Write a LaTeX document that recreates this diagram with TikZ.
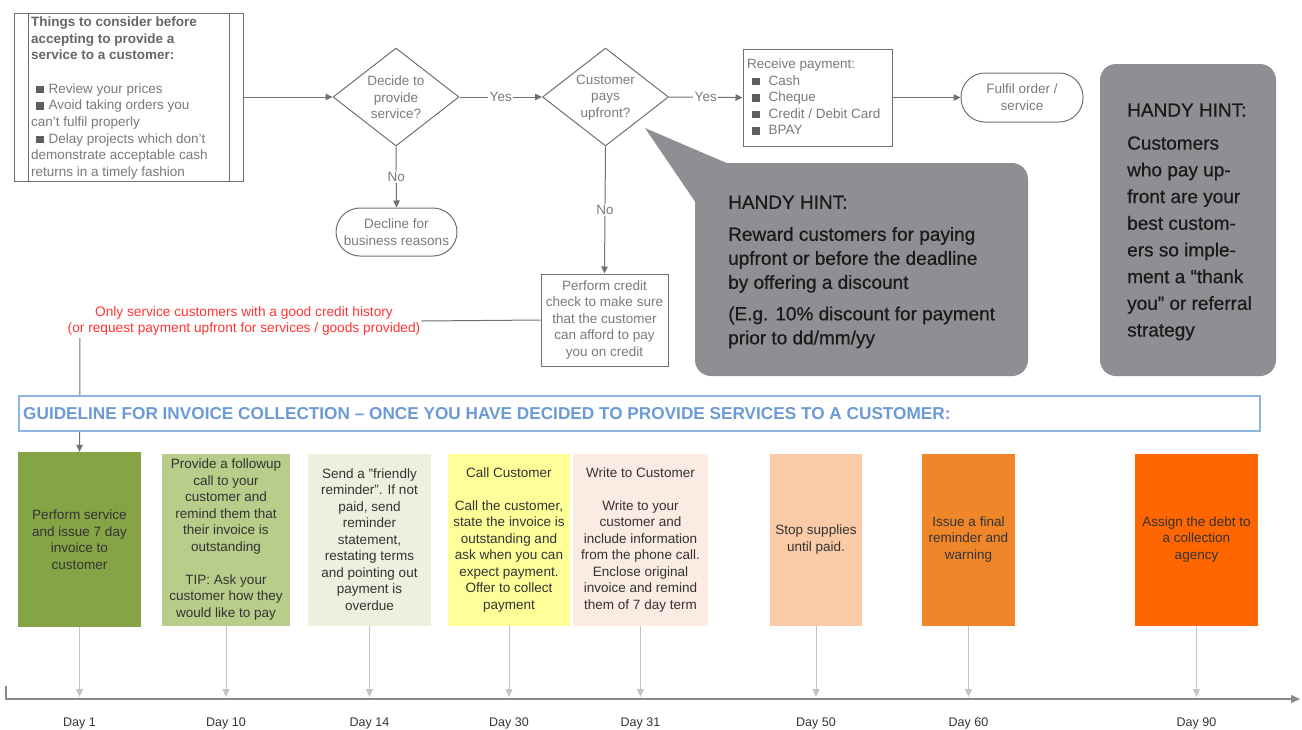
\documentclass[tikz,border=0pt]{standalone}
\usepackage{fontspec}
\setmainfont{Liberation Sans}
\newfontfamily\hintfont[FakeBold=0.6]{Liberation Sans}
\usetikzlibrary{shapes.geometric,arrows.meta}
\definecolor{linec}{HTML}{707070}
\definecolor{ftextc}{HTML}{7A7A7A}
\definecolor{boldc}{HTML}{666666}
\definecolor{bulletc}{HTML}{5E5E5E}
\definecolor{redc}{HTML}{FF3333}
\definecolor{guidec}{HTML}{8DB4E2}
\definecolor{guidetext}{HTML}{6C9AD6}
\definecolor{hintc}{HTML}{8E8F93}
\definecolor{hinttext}{HTML}{1A1A1A}
\definecolor{boxtext}{HTML}{333333}
\definecolor{cA}{HTML}{84A446}
\definecolor{cB}{HTML}{B8CD8A}
\definecolor{cC}{HTML}{EBF1DE}
\definecolor{cD}{HTML}{FFFF99}
\definecolor{cE}{HTML}{FCEBE2}
\definecolor{cF}{HTML}{FACBA6}
\definecolor{cG}{HTML}{F0862A}
\definecolor{cH}{HTML}{FF6600}
\definecolor{dropc}{HTML}{C4C4C4}
\definecolor{tlc}{HTML}{8A8A8A}
\newcommand{\myfs}[2]{\fontsize{#1pt}{#2pt}\selectfont}
\newcommand{\sqb}{\textcolor{bulletc}{\rule{7.5pt}{7.5pt}}}
\begin{document}
\begin{tikzpicture}[x=1pt,y=-1pt,
  flow/.style={draw=linec, line width=1pt, -{Triangle[length=7pt,width=6.5pt]}},
  plain/.style={draw=linec, line width=1pt},
  ftext/.style={text=ftextc, font=\myfs{13.5}{16.5}, align=center, inner sep=0pt},
  decision/.style={diamond, draw=linec, line width=1pt, minimum width=126pt, minimum height=98pt, inner sep=0pt},
  fbox/.style={rectangle, draw=linec, line width=1pt, fill=white, inner sep=0pt},
  term/.style={rectangle, rounded corners=24pt, draw=linec, line width=1pt, inner sep=0pt},
  lbl/.style={fill=white, inner sep=1.5pt, text=ftextc, font=\myfs{13.5}{16.5}},
  stepbox/.style={rectangle, inner sep=0pt, text=boxtext, font=\myfs{13.5}{16.5}, align=center, minimum height=172pt},
  hint/.style={rectangle, fill=hintc, rounded corners=16pt, inner sep=0pt},
  htext/.style={text=hinttext, font=\hintfont\myfs{19}{24}, align=left, inner sep=0pt},
  drop/.style={draw=dropc, line width=1pt, -{Triangle[length=8pt,width=7pt]}},
  tline/.style={draw=tlc, line width=1.2pt, -{Triangle[length=9pt,width=8pt]}},
  daytext/.style={text=boxtext, font=\myfs{12.5}{15}, inner sep=0pt}
]
\useasboundingbox (0,0) rectangle (1302,729);

% ---------- top flow ----------
\node[fbox, minimum width=229pt, minimum height=168pt] (things) at (128.5,97) {};
\draw[plain] ([xshift=15pt]things.north west) -- ([xshift=15pt]things.south west);
\draw[plain] ([xshift=-14pt]things.north east) -- ([xshift=-14pt]things.south east);
\node[anchor=west, inner sep=0pt, align=left, text=ftextc, font=\myfs{13.5}{16.7}] (thingst) at (31,98)
 {\textcolor{boldc}{\textbf{Things to consider before}}\\
  \textcolor{boldc}{\textbf{accepting to provide a}}\\
  \textcolor{boldc}{\textbf{service to a customer:}}\\[16.7pt]
  \hspace*{5pt}\sqb\hspace{5pt}Review your prices\\
  \hspace*{5pt}\sqb\hspace{5pt}Avoid taking orders you\\
  can’t fulfil properly\\
  \hspace*{5pt}\sqb\hspace{5pt}Delay projects which don’t\\
  demonstrate acceptable cash\\
  returns in a timely fashion};

\node[decision] (d1) at (396,97) {};
\node[ftext] (d1t) at (396,97.5) {Decide to\\provide\\service?};
\node[decision] (d2) at (605.5,97) {};
\node[ftext] (d2t) at (605.5,97.5) {Customer\\pays\\upfront?};

\node[fbox, minimum width=149pt, minimum height=97pt] (pay) at (817.5,97.5) {};
\node[ftext, anchor=west, align=left] (payt) at (747,97)
 {Receive payment:\\
  \hspace*{5pt}\sqb\hspace{9pt}Cash\\
  \hspace*{5pt}\sqb\hspace{9pt}Cheque\\
  \hspace*{5pt}\sqb\hspace{9pt}Credit / Debit Card\\
  \hspace*{5pt}\sqb\hspace{9pt}BPAY};

\node[term, minimum width=122pt, minimum height=49pt] (ful) at (1022,97.5) {};
\node[ftext] (fult) at (1022,97) {Fulfil order /\\service};

\node[term, minimum width=121pt, minimum height=48pt] (dec) at (396.5,232) {};
\node[ftext] (dect) at (396.5,232) {Decline for\\business reasons};

\node[fbox, minimum width=127pt, minimum height=92pt] (cc) at (604.5,320) {};
\node[ftext] (cct) at (604.5,320) {Perform credit\\check to make sure\\that the customer\\can afford to pay\\you on credit};

\draw[flow] (things.east) -- (d1.west);
\draw[flow] (d1.east) -- node[lbl]{Yes} (d2.west);
\draw[flow] (d2.east) -- node[lbl]{Yes} (pay.west);
\draw[flow] (pay.east) -- (ful.west);
\draw[flow] (d1.south) -- node[lbl]{No} (dec.north);
\draw[flow] (d2.south) -- node[lbl]{No} (cc.north);

\node[text=redc, font=\myfs{13.7}{16}, align=center, inner sep=1pt] (red) at (244,321)
 {Only service customers with a good credit history\\(or request payment upfront for services / goods provided)};
\draw[plain] (cc.west) -- (red.east);

% ---------- hints ----------
\fill[hintc] (645,128) -- (736,167) -- (700,209) -- cycle;
\node[hint, minimum width=333pt, minimum height=213pt] (h1) at (861.5,269.5) {};
\node[htext, anchor=west] (h1t) at (728,272)
 {HANDY HINT:\\[8pt]
  Reward customers for paying\\
  upfront or before the deadline\\
  by offering a discount\\[7.5pt]
  (E.g. 10\% discount for payment\\
  prior to dd/mm/yy};

\node[hint, minimum width=176pt, minimum height=312pt] (h2) at (1188,220) {};
\node[htext, anchor=west, font=\hintfont\myfs{19}{26.7}] (h2t) at (1127,222)
 {HANDY HINT:\\[6.3pt]
  Customers\\
  who pay up-\\
  front are your\\
  best custom-\\
  ers so imple-\\
  ment a “thank\\
  you” or referral\\
  strategy};

% ---------- guideline ----------
\coordinate (vstart) at (80,338);
\node[stepbox, fill=cA, minimum width=123pt, minimum height=175pt] (b1) at (79.5,539.5) {Perform service\\and issue 7 day\\invoice to\\customer};
\draw[flow] (vstart) -- (b1.north);
\node[draw=guidec, line width=1.3pt, fill=white, minimum width=1241pt, minimum height=35pt, inner sep=0pt] (guide) at (639.5,413.5) {};
\node[anchor=west, inner sep=0pt, text=guidetext, font=\bfseries\myfs{17.2}{20}] (guidet) at (23,413.5)
 {GUIDELINE FOR INVOICE COLLECTION – ONCE YOU HAVE DECIDED TO PROVIDE SERVICES TO A CUSTOMER:};

% ---------- steps ----------
\node[stepbox, fill=cB, minimum width=128pt] (b2) at (226,539.5) {Provide a followup\\call to your\\customer and\\remind them that\\their invoice is\\outstanding\\[16.5pt] TIP: Ask your\\customer how they\\would like to pay};
\node[stepbox, fill=cC, minimum width=123pt] (b3) at (369.5,539.5) {Send a "friendly\\reminder". If not\\paid, send\\reminder\\statement,\\restating terms\\and pointing out\\payment is\\overdue};
\node[stepbox, fill=cD, minimum width=122pt] (b4) at (509,539.5) {Call Customer\\[16.5pt] Call the customer,\\state the invoice is\\outstanding and\\ask when you can\\expect payment.\\Offer to collect\\payment};
\node[stepbox, fill=cE, minimum width=135pt] (b5) at (640.5,539.5) {Write to Customer\\[16.5pt] Write to your\\customer and\\include information\\from the phone call.\\Enclose original\\invoice and remind\\them of 7 day term};
\node[stepbox, fill=cF, minimum width=92pt] (b6) at (816,539.5) {Stop supplies\\until paid.};
\node[stepbox, fill=cG, minimum width=93pt] (b7) at (968.5,539.5) {Issue a final\\reminder and\\warning};
\node[stepbox, fill=cH, minimum width=123pt] (b8) at (1196.5,539.5) {Assign the debt to\\a collection\\agency};

% ---------- timeline ----------
\coordinate (tl0) at (6,686);
\coordinate (tl1) at (6,699);
\coordinate (tl2) at (1300,699);
\coordinate (tip) at (0,697);
\coordinate (dayrow) at (0,723);
\draw[tline] (tl0) -- (tl1) -- (tl2);
\foreach \b/\d in {b1/1,b2/10,b3/14,b4/30,b5/31,b6/50,b7/60,b8/90}{
  \draw[drop] (\b.south) -- (\b.south |- tip);
  \node[daytext] at (\b.south |- dayrow) {Day \d};
}
\end{tikzpicture}
\end{document}
